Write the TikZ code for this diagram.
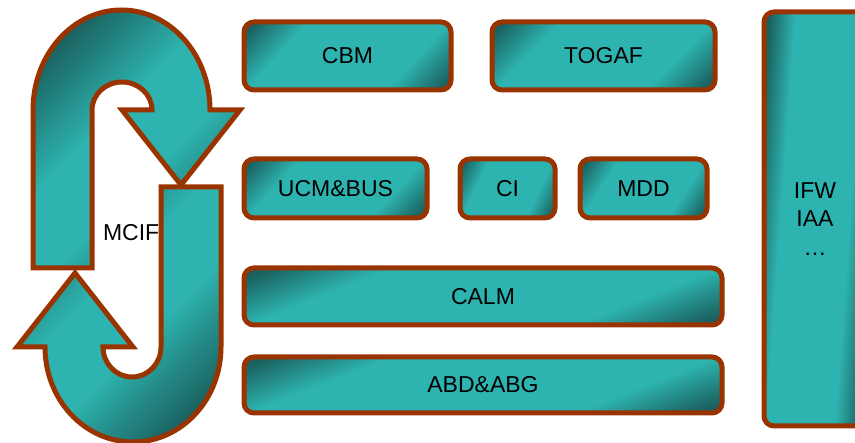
\documentclass[tikz,border=0pt]{standalone}
\usepackage{fontspec}
\setmainfont{Liberation Sans}
\usepackage{tikz}
\usetikzlibrary{backgrounds}

\definecolor{rim}{RGB}{153,51,0}
\definecolor{tealdark}{RGB}{26,96,94}
\definecolor{teallight}{RGB}{46,180,176}
\pgfdeclarehorizontalshading{tealband}{100bp}{color(0bp)=(tealdark); color(27bp)=(tealdark); color(37bp)=(teallight); color(63bp)=(teallight); color(73bp)=(tealdark); color(100bp)=(tealdark)}
\pgfdeclarehorizontalshading{tealturn}{100bp}{color(0bp)=(tealdark); color(31bp)=(tealdark); color(45bp)=(teallight); color(55bp)=(teallight); color(69bp)=(tealdark); color(100bp)=(tealdark)}

% shading band turned by #2, running over -#3..#3 along its axis
\newcommand\tealfill[3]{%
  \begin{scope}[transform canvas={shift={(path picture bounding box.center)}, rotate=#2}]
    \shade[shading=#1] (-#3,-400) rectangle (#3,400);
  \end{scope}}

\tikzset{
  txt/.style={inner sep=0pt, outer sep=0pt, font=\fontsize{23}{28.5}\selectfont},
  block/.style 2 args={draw=rim, line width=5pt, rounded corners=10pt,
    path picture={\tealfill{tealband}{#1}{#2}}},
  turn/.style 2 args={draw=rim, line width=5pt, line join=miter,
    path picture={\tealfill{tealturn}{#1}{#2}}}
}

\begin{document}
\begin{tikzpicture}[x=1pt,y=1pt]
\useasboundingbox (0,0) rectangle (855,-443);
\node[txt, minimum width=207pt, minimum height=68pt] (cbm) at (347.5,-56) {CBM};
\node[txt, minimum width=223pt, minimum height=68pt] (togaf) at (603.5,-56) {TOGAF};
\node[txt, minimum width=183pt, minimum height=59pt] (ucm) at (335.5,-188.5) {UCM\&BUS};
\node[txt, minimum width=95pt, minimum height=59pt] (ci) at (507.5,-188.5) {CI};
\node[txt, minimum width=127pt, minimum height=59pt] (mdd) at (643.5,-188.5) {MDD};
\node[txt, minimum width=478pt, minimum height=57pt] (calm) at (483,-296.5) {CALM};
\node[txt, minimum width=478pt, minimum height=56pt] (abd) at (483,-385) {ABD\&ABG};
\node[txt, minimum width=102pt, minimum height=414pt, align=center] (ifw) at (815,-219) {IFW\\IAA\\…};
\begin{scope}[on background layer]
\path[block={-42.4}{99.4}] (cbm.south west) rectangle (cbm.north east);
\path[block={-44.5}{103.4}] (togaf.south west) rectangle (togaf.north east);
\path[block={-42.9}{87.1}] (ucm.south west) rectangle (ucm.north east);
\path[block={-25.8}{55.6}] (ci.south west) rectangle (ci.north east);
\path[block={-32.9}{69.3}] (mdd.south west) rectangle (mdd.north east);
\path[block={-68.3}{114.9}] (calm.south west) rectangle (calm.north east);
\path[block={-68.7}{112.9}] (abd.south west) rectangle (abd.north east);
\path[block={-4.2}{66}] (ifw.south west) rectangle (ifw.north east);
\end{scope}
% loop on the left
\node[txt, anchor=west] (mcif) at (103,-233) {MCIF};
\path[turn={-45}{164.4}] (33,-268) -- (33,-110) arc[start angle=180, end angle=0, x radius=88.5, y radius=100]
  -- (240,-110) -- (181,-185) -- (122,-110) -- (152,-110)
  arc[start angle=0, end angle=180, x radius=30, y radius=28] -- (92,-268) -- cycle;
\path[turn={-45}{162.3}] (221,-187) -- (221,-347) arc[start angle=0, end angle=-180, x radius=88, y radius=95]
  -- (17,-347) -- (75,-273) -- (133,-347) -- (103,-347)
  arc[start angle=180, end angle=360, x radius=29, y radius=30] -- (161,-187) -- cycle;
\end{tikzpicture}
\end{document}
